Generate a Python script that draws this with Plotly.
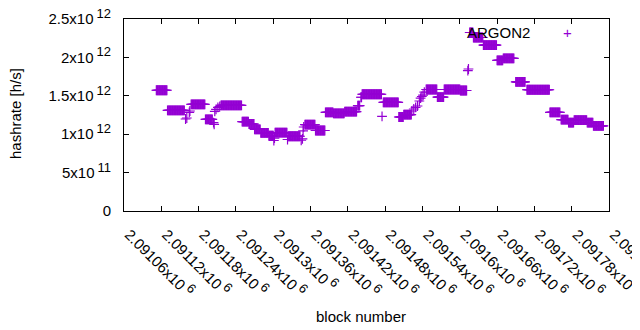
import plotly.graph_objects as go

# ---- data: runs of constant estimated hashrate ----
run_start = [2091112, 2091130, 2091159, 2091161, 2091165, 2091166, 2091168, 2091191, 2091204, 2091205,
             2091206, 2091208, 2091211, 2091214, 2091216, 2091250, 2091261, 2091270, 2091280, 2091293,
             2091301, 2091302, 2091303, 2091323, 2091324, 2091345, 2091347, 2091348, 2091349, 2091351,
             2091368, 2091384, 2091397, 2091415, 2091436, 2091441, 2091443, 2091475, 2091477, 2091502,
             2091510, 2091523, 2091526, 2091529, 2091532, 2091535, 2091537, 2091539, 2091541, 2091543,
             2091546, 2091564, 2091575, 2091601, 2091613, 2091614, 2091616, 2091622, 2091638, 2091660,
             2091670, 2091690, 2091708, 2091745, 2091763, 2091775, 2091784, 2091805, 2091815]
run_end = [2091129, 2091157, 2091159, 2091161, 2091165, 2091166, 2091190, 2091202, 2091204, 2091205,
           2091206, 2091208, 2091211, 2091214, 2091249, 2091260, 2091269, 2091279, 2091292, 2091300,
           2091301, 2091302, 2091322, 2091323, 2091343, 2091345, 2091347, 2091348, 2091349, 2091367,
           2091383, 2091396, 2091414, 2091434, 2091439, 2091442, 2091474, 2091475, 2091501, 2091509,
           2091522, 2091523, 2091526, 2091529, 2091532, 2091535, 2091537, 2091539, 2091541, 2091543,
           2091563, 2091574, 2091600, 2091611, 2091613, 2091614, 2091621, 2091637, 2091659, 2091669,
           2091687, 2091705, 2091744, 2091761, 2091774, 2091783, 2091804, 2091814, 2091831]
run_rate = [1.572e12, 1.311e12, 1.198e12, 1.211e12, 1.283e12, 1.302e12, 1.389e12, 1.194e12, 1.152e12, 1.129e12,
            1.296e12, 1.322e12, 1.348e12, 1.361e12, 1.376e12, 1.165e12, 1.133e12, 1.064e12, 1.018e12, 0.980e12,
            0.918e12, 0.950e12, 1.020e12, 0.931e12, 0.973e12, 0.921e12, 0.938e12, 1.042e12, 1.094e12, 1.124e12,
            1.048e12, 1.285e12, 1.270e12, 1.295e12, 1.371e12, 1.481e12, 1.520e12, 1.233e12, 1.415e12, 1.224e12,
            1.254e12, 1.302e12, 1.328e12, 1.348e12, 1.367e12, 1.432e12, 1.471e12, 1.491e12, 1.510e12, 1.549e12,
            1.582e12, 1.484e12, 1.582e12, 1.569e12, 1.829e12, 1.849e12, 2.324e12, 2.259e12, 2.159e12, 1.960e12,
            1.988e12, 1.682e12, 1.579e12, 1.283e12, 1.191e12, 1.152e12, 1.182e12, 1.150e12, 1.109e12]

series_name = "ARGON2"

x_tick_vals = [2091060, 2091120, 2091180, 2091240, 2091300, 2091360, 2091420,
               2091480, 2091540, 2091600, 2091660, 2091720, 2091780, 2091840]
x_tick_text = ["2.09106", "2.09112", "2.09118", "2.09124", "2.0913", "2.09136", "2.09142",
               "2.09148", "2.09154", "2.0916", "2.09166", "2.09172", "2.09178", "2.09184"]
x_tick_exp = "6"

y_tick_vals = [0, 5e11, 1e12, 1.5e12, 2e12, 2.5e12]
y_tick_mant = ["0", "5", "1", "1.5", "2", "2.5"]
y_tick_exp = ["", "11", "12", "12", "12", "12"]

# ---- expand runs into one point per block ----
xs, ys = [], []
for s, e, v in zip(run_start, run_end, run_rate):
    for b in range(s, e + 1):
        xs.append(b)
        ys.append(v)

FONT = "Liberation Sans, Arial, sans-serif"
PURPLE = "#9400d3"


def sci(m, e):
    if not e:
        return m
    return m + "x10\u2009<sup><span style='font-size:13px'>" + e + "</span></sup>"


fig = go.Figure()
fig.add_trace(go.Scatter(
    x=xs, y=ys, mode="markers", name=series_name, showlegend=False,
    marker=dict(symbol="cross-thin", size=7, color=PURPLE,
                line=dict(width=1.2, color=PURPLE)),
))

axis_common = dict(showline=True, linecolor="black", linewidth=1, mirror="allticks",
                   ticks="inside", ticklen=5, tickcolor="black", showgrid=False,
                   zeroline=False, automargin=False, ticklabeloverflow="allow",
                   tickfont=dict(family=FONT, size=15, color="black"))

fig.update_xaxes(range=[x_tick_vals[0], x_tick_vals[-1]], tickmode="array",
                 tickvals=x_tick_vals,
                 ticktext=[sci(t, x_tick_exp) for t in x_tick_text],
                 tickangle=45, ticklabelstandoff=8, ticklabelshift=5, **axis_common)
fig.update_yaxes(range=[y_tick_vals[0], y_tick_vals[-1]], tickmode="array",
                 tickvals=y_tick_vals,
                 ticktext=[sci(m, e) for m, e in zip(y_tick_mant, y_tick_exp)],
                 ticklabelstandoff=9, **axis_common)

# the page body adds an 8px margin; shift the figure to compensate
OFF = 8
W, H = 640, 330
pw, ph = 485, 192
L, T = 124 - OFF, 19 - OFF
R, B = W - L - pw, H - T - ph


def px(xp):  # reference-pixel x -> paper
    return (xp - 124) / pw


def py(yp):  # reference-pixel y -> paper
    return (211 - yp) / ph


fig.add_annotation(text="block number", xref="paper", yref="paper",
                   x=px(361), y=py(316), showarrow=False,
                   font=dict(family=FONT, size=15, color="black"),
                   xanchor="center", yanchor="middle")
fig.add_annotation(text="hashrate [h/s]", xref="paper", yref="paper",
                   x=px(15), y=py(114), showarrow=False, textangle=-90,
                   font=dict(family=FONT, size=15, color="black"),
                   xanchor="center", yanchor="middle")
# key (gnuplot style: text, then sample)
fig.add_annotation(text=series_name, xref="paper", yref="paper",
                   x=px(532), y=py(32.5), showarrow=False,
                   font=dict(family=FONT, size=15, color="black"),
                   xanchor="right", yanchor="middle")
fig.add_annotation(text="+", xref="paper", yref="paper",
                   x=px(567), y=py(32.5), showarrow=False,
                   font=dict(family=FONT, size=15, color=PURPLE),
                   xanchor="center", yanchor="middle")

fig.update_layout(width=W, height=H, margin=dict(l=L, r=R, t=T, b=B, autoexpand=False),
                  paper_bgcolor="white", plot_bgcolor="white",
                  font=dict(family=FONT, size=15, color="black"))

fig.write_html("out.html")
